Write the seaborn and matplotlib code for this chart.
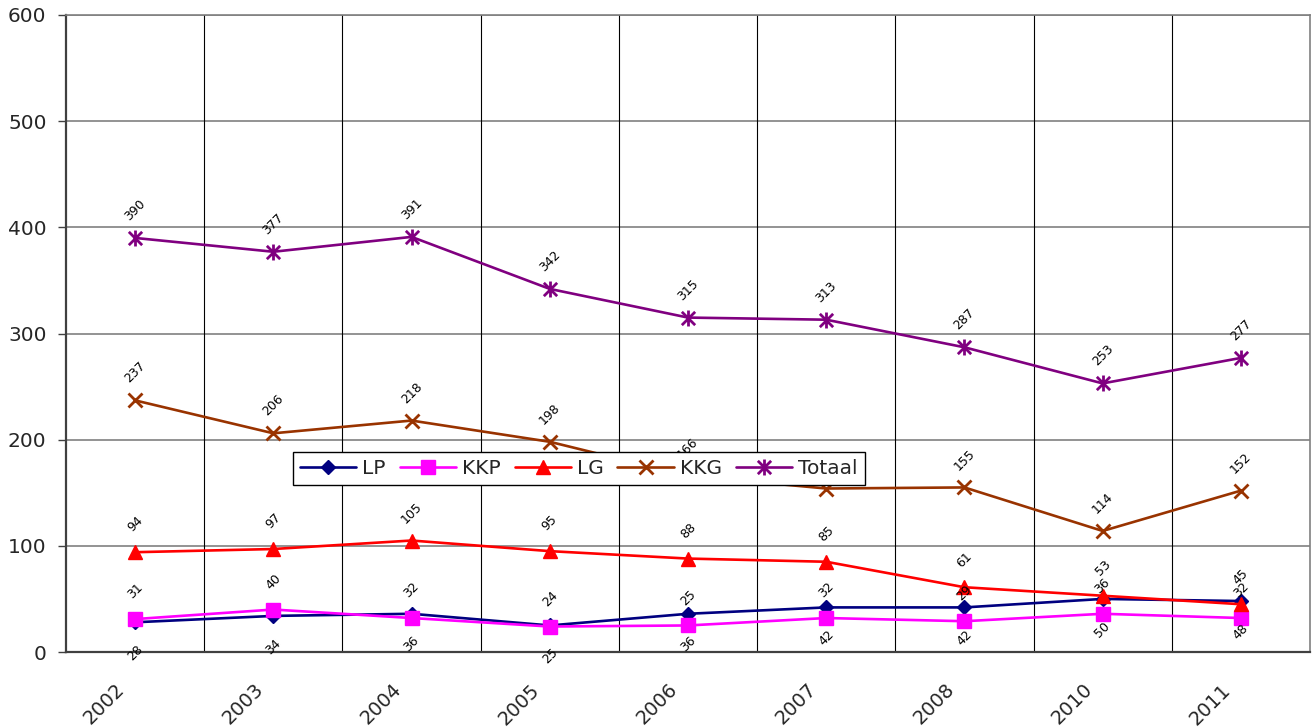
import matplotlib
matplotlib.use("Agg")
import matplotlib.pyplot as plt
import seaborn as sns
import pandas as pd
from matplotlib.path import Path

years = ["2002", "2003", "2004", "2005", "2006", "2007", "2008", "2010", "2011"]
lp = [28, 34, 36, 25, 36, 42, 42, 50, 48]
kkp = [31, 40, 32, 24, 25, 32, 29, 36, 32]
lg = [94, 97, 105, 95, 88, 85, 61, 53, 45]
kkg = [237, 206, 218, 198, 166, 154, 155, 114, 152]
totaal = [390, 377, 391, 342, 315, 313, 287, 253, 277]

series_names = ["LP", "KKP", "LG", "KKG", "Totaal"]
series_values = [lp, kkp, lg, kkg, totaal]
y_ticks = [0, 100, 200, 300, 400, 500, 600]

sns.set_theme(style="white")
plt.rcParams["font.family"] = ["DejaVu Sans"]

asterisk = Path([(-1, -1), (1, 1), (-1, 1), (1, -1), (0, -1.2), (0, 1.2)],
                [Path.MOVETO, Path.LINETO, Path.MOVETO, Path.LINETO, Path.MOVETO, Path.LINETO])

styles = {
    "LP": dict(color="#000080", marker="D", ms=7, mew=1, mec="#000080"),
    "KKP": dict(color="#FF00FF", marker="s", ms=10.5, mew=1, mec="#FF00FF"),
    "LG": dict(color="#FF0000", marker="^", ms=10.5, mew=1, mec="#FF0000"),
    "KKG": dict(color="#993300", marker="x", ms=10, mew=2, mec="#993300"),
    "Totaal": dict(color="#800080", marker=asterisk, ms=11.5, mew=2, mec="#800080"),
}

fig = plt.figure(figsize=(13.13, 7.27), dpi=100)
ax = fig.add_axes([66 / 1313, 1 - 652 / 727, 1244 / 1313, 637 / 727])

for name, vals in zip(series_names, series_values):
    df = pd.DataFrame({"year": years, "value": vals})
    st = styles[name]
    sns.lineplot(data=df, x="year", y="value", ax=ax, color=st["color"], lw=1.9,
                 marker=st["marker"], markersize=st["ms"], markeredgewidth=st["mew"],
                 markeredgecolor=st["mec"], markerfacecolor=st["color"], label=name,
                 sort=False, zorder=3)
    for i, v in enumerate(vals):
        off = -22 if name == "LP" else 20
        ax.annotate(str(v), xy=(i, v), xytext=(0, off), textcoords="offset points",
                    rotation=45, ha="center", va="center", rotation_mode="anchor",
                    fontsize=9, color="black", zorder=4)

n = len(years)
ax.set_xlim(-0.5, n - 0.5)
ax.set_ylim(0, 600)
ax.set_yticks(y_ticks)
ax.set_yticklabels([str(t) for t in y_ticks], fontsize=14.5)
# label anchors sit slightly left of each category centre, as in the reference
ax.set_xticks([i - 0.095 for i in range(n)])
ax.set_xticklabels(years, fontsize=14, rotation=45, ha="right", va="center",
                   rotation_mode="anchor")
ax.set_xticks([i + 0.5 for i in range(-1, n)], minor=True)
ax.tick_params(axis="x", which="major", length=0, pad=25)
ax.tick_params(axis="x", which="minor", length=6, width=1, color="#404040", direction="out")
ax.tick_params(axis="y", which="major", length=6, width=1, color="#404040", direction="out", pad=8, left=True)
ax.set_xlabel("")
ax.set_ylabel("")

for t in y_ticks[1:]:
    ax.axhline(t, color="#808080", lw=1.2, zorder=1)
for i in range(1, n):
    ax.axvline(i - 0.5, color="black", lw=0.8, zorder=1)

for side in ["left", "bottom"]:
    ax.spines[side].set_color("#404040")
    ax.spines[side].set_linewidth(1.6)
for side in ["top", "right"]:
    ax.spines[side].set_color("#808080")
    ax.spines[side].set_linewidth(1.2)
    ax.spines[side].set_visible(True)

leg = ax.legend(loc="upper left", bbox_to_anchor=((293 - 66) / 1244, (652 - 452) / 637),
                ncol=5, fontsize=14.5, frameon=True, fancybox=False, framealpha=1,
                edgecolor="black", handlelength=2.8, handletextpad=0.3, columnspacing=0.68,
                borderpad=0.35, borderaxespad=0)
leg.get_frame().set_linewidth(1.0)
leg.set_zorder(10)

fig.savefig("out.png", dpi=100)
